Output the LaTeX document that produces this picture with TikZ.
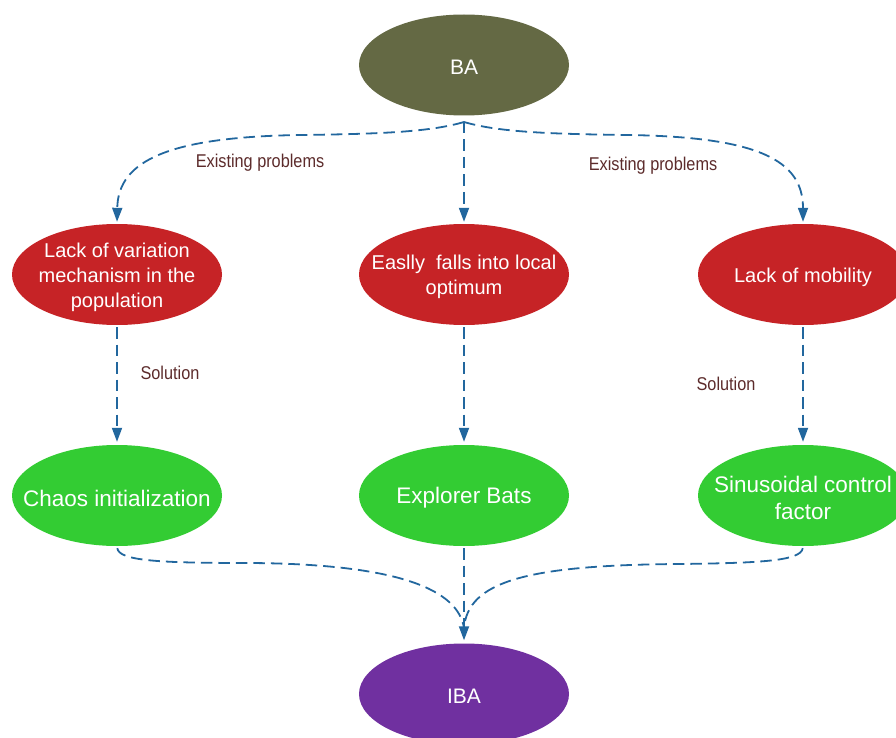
\documentclass[tikz,border=0pt]{standalone}
\usepackage{fontspec}
\setmainfont{Liberation Sans}
\newfontfamily\lblfont[FakeStretch=0.88]{Liberation Sans}
\usetikzlibrary{arrows.meta,shapes.geometric}
\definecolor{olivebg}{HTML}{646944}
\definecolor{probred}{HTML}{C62326}
\definecolor{solgreen}{HTML}{33CC33}
\definecolor{ibapurple}{HTML}{7030A0}
\definecolor{linkblue}{HTML}{22679E}
\definecolor{lblbrown}{HTML}{5C2B2B}
\begin{document}
\begin{tikzpicture}[x=1pt,y=-1pt,
  ell/.style={ellipse, minimum width=210pt, minimum height=101pt, inner sep=0pt, draw=none},
  txt/.style={text=white, align=center, font=\fontsize{20}{25}\selectfont, inner sep=0pt, yshift=-2.5pt},
  gtxt/.style={txt, font=\fontsize{22.5}{27}\selectfont},
  ttxt/.style={txt, font=\fontsize{21}{25}\selectfont},
  lbl/.style={text=lblbrown, font=\lblfont\fontsize{18.5}{20}\selectfont, inner sep=0pt},
  link/.style={draw=linkblue, line width=1.8pt, dash pattern=on 11.5pt off 6pt},
  arr/.style={link, -{Triangle[length=14pt,width=10pt]}}]
\useasboundingbox (0,0) rectangle (896,738);
\clip (0,0) rectangle (896,738);
% nodes
\node[ell, fill=olivebg] (ba) at (464,65) {};
\node[ttxt] (bat) at (ba) {BA};
\node[ell, fill=probred] (p1) at (117,274.5) {};
\node[txt] (p1t) at (p1) {Lack of variation\\mechanism in the\\population};
\node[ell, fill=probred] (p2) at (464,274.5) {};
\node[txt] (p2t) at (p2) {Easlly\ \ falls into local\\optimum};
\node[ell, fill=probred] (p3) at (803,274.5) {};
\node[txt] (p3t) at (p3) {Lack of mobility};
\node[ell, fill=solgreen] (s1) at (117,495.5) {};
\node[gtxt] (s1t) at (s1) {Chaos initialization};
\node[ell, fill=solgreen] (s2) at (464,495.5) {};
\node[gtxt] (s2t) at (s2) {Explorer Bats};
\node[ell, fill=solgreen] (s3) at (803,495.5) {};
\node[gtxt] (s3t) at (s3) {Sinusoidal control\\factor};
\node[ell, fill=ibapurple] (iba) at (464,694) {};
\node[ttxt] (ibat) at (iba) {IBA};
% labels
\node[lbl] (l1) at (260,163) {Existing problems};
\node[lbl] (l2) at (653,166) {Existing problems};
\node[lbl] (l3) at (170,373) {Solution};
\node[lbl] (l4) at (726,384) {Solution};
% connectors
\coordinate (top) at (464,122);
\coordinate (merge) at (464,628);
\draw[arr, shorten >=2pt] (top) .. controls (430,132) and (380,134) .. (300,135)
  .. controls (170,137) and (118,160) .. (p1.north);
\draw[arr, shorten >=2pt] (top) -- (p2.north);
\draw[arr, shorten >=2pt] (top) .. controls (498,132) and (548,134) .. (628,135)
  .. controls (758,137) and (803,160) .. (p3.north);
\draw[arr, shorten <=2pt, shorten >=3pt] (p1.south) -- (s1.north);
\draw[arr, shorten <=2pt, shorten >=3pt] (p2.south) -- (s2.north);
\draw[arr, shorten <=2pt, shorten >=3pt] (p3.south) -- (s3.north);
\draw[link, shorten <=2pt] (s1.south) .. controls (119,561) and (160,563) .. (250,563)
  .. controls (400,564) and (458,590) .. (merge);
\draw[link, shorten <=2pt] (s3.south) .. controls (801,561) and (760,563) .. (680,564)
  .. controls (525,565) and (468,582) .. (merge);
\draw[arr, shorten <=2pt, shorten >=3pt] (s2.south) -- (iba.north);
\end{tikzpicture}
\end{document}
